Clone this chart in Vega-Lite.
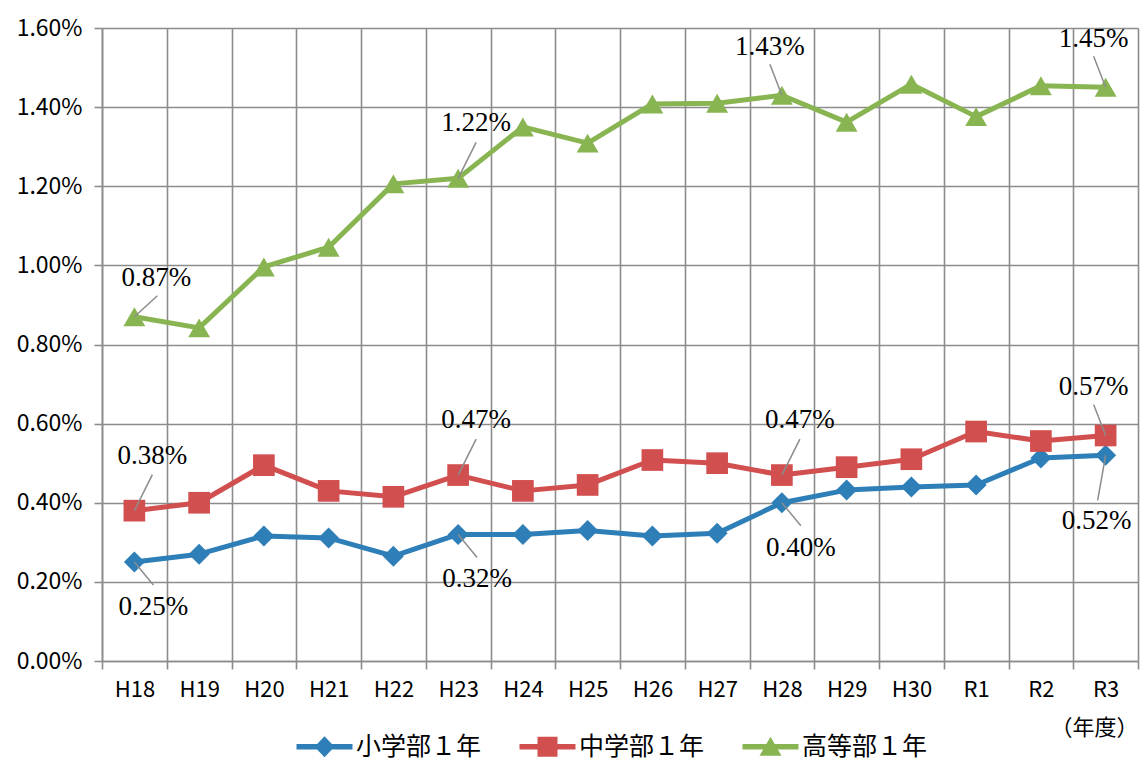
{
  "$schema": "https://vega.github.io/schema/vega-lite/v6.json",
  "width": 1036,
  "height": 633,
  "autosize": "none",
  "padding": {"left": 102, "top": 28, "right": 8, "bottom": 104},
  "background": "white",
  "config": {
    "view": {"stroke": null},
    "font": "Noto Sans CJK JP",
    "axis": {
      "gridColor": "#8c8c8c", "gridWidth": 1.6, "gridOpacity": 1,
      "domainColor": "#8c8c8c", "domainWidth": 1.6,
      "tickColor": "#8c8c8c", "tickWidth": 1.6, "tickSize": 8,
      "labelColor": "#000000", "labelFont": "Noto Sans CJK JP", "labelFontSize": 22,
      "titleFont": "Noto Sans CJK JP", "titleFontSize": 22, "titleFontWeight": "normal", "titleColor": "#000000"
    },
    "legend": {"layout": {"bottom": {"anchor": "middle"}}}
  },
  "datasets": {
    "rates": [
      {"year": "H18", "series": "小学部１年", "rate": 0.0025},
      {"year": "H19", "series": "小学部１年", "rate": 0.0027},
      {"year": "H20", "series": "小学部１年", "rate": 0.00316},
      {"year": "H21", "series": "小学部１年", "rate": 0.00311},
      {"year": "H22", "series": "小学部１年", "rate": 0.00265},
      {"year": "H23", "series": "小学部１年", "rate": 0.0032},
      {"year": "H24", "series": "小学部１年", "rate": 0.0032},
      {"year": "H25", "series": "小学部１年", "rate": 0.0033},
      {"year": "H26", "series": "小学部１年", "rate": 0.00316},
      {"year": "H27", "series": "小学部１年", "rate": 0.00323},
      {"year": "H28", "series": "小学部１年", "rate": 0.004},
      {"year": "H29", "series": "小学部１年", "rate": 0.00432},
      {"year": "H30", "series": "小学部１年", "rate": 0.0044},
      {"year": "R1", "series": "小学部１年", "rate": 0.00445},
      {"year": "R2", "series": "小学部１年", "rate": 0.00513},
      {"year": "R3", "series": "小学部１年", "rate": 0.0052},
      {"year": "H18", "series": "中学部１年", "rate": 0.0038},
      {"year": "H19", "series": "中学部１年", "rate": 0.004},
      {"year": "H20", "series": "中学部１年", "rate": 0.00495},
      {"year": "H21", "series": "中学部１年", "rate": 0.0043},
      {"year": "H22", "series": "中学部１年", "rate": 0.00415},
      {"year": "H23", "series": "中学部１年", "rate": 0.0047},
      {"year": "H24", "series": "中学部１年", "rate": 0.0043},
      {"year": "H25", "series": "中学部１年", "rate": 0.00445},
      {"year": "H26", "series": "中学部１年", "rate": 0.00508},
      {"year": "H27", "series": "中学部１年", "rate": 0.005},
      {"year": "H28", "series": "中学部１年", "rate": 0.0047},
      {"year": "H29", "series": "中学部１年", "rate": 0.0049},
      {"year": "H30", "series": "中学部１年", "rate": 0.0051},
      {"year": "R1", "series": "中学部１年", "rate": 0.0058},
      {"year": "R2", "series": "中学部１年", "rate": 0.00556},
      {"year": "R3", "series": "中学部１年", "rate": 0.0057},
      {"year": "H18", "series": "高等部１年", "rate": 0.0087},
      {"year": "H19", "series": "高等部１年", "rate": 0.00842},
      {"year": "H20", "series": "高等部１年", "rate": 0.00996},
      {"year": "H21", "series": "高等部１年", "rate": 0.01046},
      {"year": "H22", "series": "高等部１年", "rate": 0.01206},
      {"year": "H23", "series": "高等部１年", "rate": 0.0122},
      {"year": "H24", "series": "高等部１年", "rate": 0.0135},
      {"year": "H25", "series": "高等部１年", "rate": 0.01309},
      {"year": "H26", "series": "高等部１年", "rate": 0.01408},
      {"year": "H27", "series": "高等部１年", "rate": 0.0141},
      {"year": "H28", "series": "高等部１年", "rate": 0.0143},
      {"year": "H29", "series": "高等部１年", "rate": 0.01362},
      {"year": "H30", "series": "高等部１年", "rate": 0.01458},
      {"year": "R1", "series": "高等部１年", "rate": 0.01376},
      {"year": "R2", "series": "高等部１年", "rate": 0.01454},
      {"year": "R3", "series": "高等部１年", "rate": 0.0145}
    ]
  },
  "data": {"name": "rates"},
  "encoding": {
    "x": {
      "field": "year", "type": "nominal",
      "sort": ["H18","H19","H20","H21","H22","H23","H24","H25","H26","H27","H28","H29","H30","R1","R2","R3"],
      "scale": {"type": "band", "paddingInner": 0, "paddingOuter": 0},
      "axis": {"title": "（年度）", "titleAnchor": "end", "labelAngle": 0, "tickBand": "extent", "grid": true, "labelPadding": 10, "titlePadding": 17}
    },
    "y": {
      "field": "rate", "type": "quantitative",
      "scale": {"domain": [0, 0.016], "nice": false, "zero": true},
      "axis": {"title": null, "format": ".2%", "values": [0, 0.002, 0.004, 0.006, 0.008, 0.01, 0.012, 0.014, 0.016], "labelPadding": 12, "grid": true, "labelFontSize": 23}
    }
  },
  "layer": [
    {
      "transform": [{"filter": "datum.series === '小学部１年'"}],
      "mark": {"type": "line", "strokeWidth": 5, "strokeJoin": "round", "strokeCap": "round", "color": "#2E7EB8"}
    },
    {
      "transform": [{"filter": "datum.series === '中学部１年'"}],
      "mark": {"type": "line", "strokeWidth": 5, "strokeJoin": "round", "strokeCap": "round", "color": "#D24F4F"}
    },
    {
      "transform": [{"filter": "datum.series === '高等部１年'"}],
      "mark": {"type": "line", "strokeWidth": 5, "strokeJoin": "round", "strokeCap": "round", "color": "#88B552"}
    },
    {
      "transform": [{"filter": "datum.series === '小学部１年'"}],
      "mark": {"type": "point", "filled": true, "opacity": 1, "shape": "diamond", "size": 440, "color": "#2E7EB8"}
    },
    {
      "transform": [{"filter": "datum.series === '中学部１年'"}],
      "mark": {"type": "point", "filled": true, "opacity": 1, "shape": "square", "size": 470, "color": "#D24F4F"}
    },
    {
      "transform": [{"filter": "datum.series === '高等部１年'"}],
      "mark": {"type": "point", "filled": true, "opacity": 1, "shape": "triangle-up", "size": 480, "color": "#88B552"}
    },
    {
      "transform": [{"filter": "(datum.series === '中学部１年' && indexof(['H18','H23','H28'], datum.year) >= 0) || (datum.series === '高等部１年' && datum.year === 'H23')"}],
      "mark": {"type": "rule", "color": "#8c8c8c", "strokeWidth": 1.5, "x2Offset": 18, "y2Offset": -36},
      "encoding": {
        "x": {"field": "year", "type": "nominal", "bandPosition": 0.5, "sort": ["H18","H19","H20","H21","H22","H23","H24","H25","H26","H27","H28","H29","H30","R1","R2","R3"]},
        "x2": {"field": "year", "bandPosition": 0.5},
        "y2": {"field": "rate"}
      }
    },
    {
      "transform": [{"filter": "datum.series === '高等部１年' && datum.year === 'H18'"}],
      "mark": {"type": "rule", "color": "#8c8c8c", "strokeWidth": 1.5, "x2Offset": 23, "y2Offset": -21},
      "encoding": {
        "x": {"field": "year", "type": "nominal", "bandPosition": 0.5, "sort": ["H18","H19","H20","H21","H22","H23","H24","H25","H26","H27","H28","H29","H30","R1","R2","R3"]},
        "x2": {"field": "year", "bandPosition": 0.5},
        "y2": {"field": "rate"}
      }
    },
    {
      "transform": [{"filter": "(datum.year === 'R3' && datum.series !== '小学部１年') || (datum.series === '高等部１年' && datum.year === 'H28')"}],
      "mark": {"type": "rule", "color": "#8c8c8c", "strokeWidth": 1.5, "x2Offset": -12, "y2Offset": -31},
      "encoding": {
        "x": {"field": "year", "type": "nominal", "bandPosition": 0.5, "sort": ["H18","H19","H20","H21","H22","H23","H24","H25","H26","H27","H28","H29","H30","R1","R2","R3"]},
        "x2": {"field": "year", "bandPosition": 0.5},
        "y2": {"field": "rate"}
      }
    },
    {
      "transform": [{"filter": "datum.series === '小学部１年' && indexof(['H18','H23','H28'], datum.year) >= 0"}],
      "mark": {"type": "rule", "color": "#8c8c8c", "strokeWidth": 1.5, "x2Offset": 19, "y2Offset": 23},
      "encoding": {
        "x": {"field": "year", "type": "nominal", "bandPosition": 0.5, "sort": ["H18","H19","H20","H21","H22","H23","H24","H25","H26","H27","H28","H29","H30","R1","R2","R3"]},
        "x2": {"field": "year", "bandPosition": 0.5},
        "y2": {"field": "rate"}
      }
    },
    {
      "transform": [{"filter": "datum.series === '小学部１年' && datum.year === 'R3'"}],
      "mark": {"type": "rule", "color": "#8c8c8c", "strokeWidth": 1.5, "x2Offset": -8, "y2Offset": 45},
      "encoding": {
        "x": {"field": "year", "type": "nominal", "bandPosition": 0.5, "sort": ["H18","H19","H20","H21","H22","H23","H24","H25","H26","H27","H28","H29","H30","R1","R2","R3"]},
        "x2": {"field": "year", "bandPosition": 0.5},
        "y2": {"field": "rate"}
      }
    },
    {
      "transform": [{"filter": "(datum.series === '中学部１年' && indexof(['H18','H23','H28'], datum.year) >= 0) || (datum.series === '高等部１年' && datum.year === 'H23')"}],
      "mark": {"type": "text", "font": "Liberation Serif", "fontSize": 27, "color": "#000000", "align": "center", "baseline": "middle", "dx": 18, "dy": -55},
      "encoding": {"text": {"field": "rate", "type": "quantitative", "format": ".2%"}}
    },
    {
      "transform": [{"filter": "datum.series === '高等部１年' && datum.year === 'H18'"}],
      "mark": {"type": "text", "font": "Liberation Serif", "fontSize": 27, "color": "#000000", "align": "center", "baseline": "middle", "dx": 22, "dy": -39},
      "encoding": {"text": {"field": "rate", "type": "quantitative", "format": ".2%"}}
    },
    {
      "transform": [{"filter": "(datum.year === 'R3' && datum.series !== '小学部１年') || (datum.series === '高等部１年' && datum.year === 'H28')"}],
      "mark": {"type": "text", "font": "Liberation Serif", "fontSize": 27, "color": "#000000", "align": "center", "baseline": "middle", "dx": -12, "dy": -48},
      "encoding": {"text": {"field": "rate", "type": "quantitative", "format": ".2%"}}
    },
    {
      "transform": [{"filter": "datum.series === '小学部１年' && indexof(['H18','H23','H28'], datum.year) >= 0"}],
      "mark": {"type": "text", "font": "Liberation Serif", "fontSize": 27, "color": "#000000", "align": "center", "baseline": "middle", "dx": 19, "dy": 45},
      "encoding": {"text": {"field": "rate", "type": "quantitative", "format": ".2%"}}
    },
    {
      "transform": [{"filter": "datum.series === '小学部１年' && datum.year === 'R3'"}],
      "mark": {"type": "text", "font": "Liberation Serif", "fontSize": 27, "color": "#000000", "align": "center", "baseline": "middle", "dx": -9, "dy": 66},
      "encoding": {"text": {"field": "rate", "type": "quantitative", "format": ".2%"}}
    },
    {
      "transform": [{"filter": "false"}],
      "mark": {"type": "point", "filled": true, "opacity": 1},
      "encoding": {
        "color": {
          "field": "series", "type": "nominal",
          "scale": {"domain": ["小学部１年", "中学部１年", "高等部１年"], "range": ["#2E7EB8", "#D24F4F", "#88B552"]},
          "legend": {"title": null, "orient": "bottom", "direction": "horizontal", "symbolSize": 100, "symbolStrokeWidth": 0, "symbolOpacity": 1, "labelFont": "Noto Sans CJK JP", "labelFontSize": 25, "labelColor": "#000000", "labelOffset": 19, "columnPadding": 37, "offset": -4}
        },
        "shape": {
          "field": "series", "type": "nominal",
          "scale": {"domain": ["小学部１年", "中学部１年", "高等部１年"], "range": [
            "M-5.6,-0.55L5.6,-0.55L5.6,0.55L-5.6,0.55Z M0,-2.1L2,0L0,2.1L-2,0Z",
            "M-5.6,-0.55L5.6,-0.55L5.6,0.55L-5.6,0.55Z M-2,-2L2,-2L2,2L-2,2Z",
            "M-5.6,-0.55L5.6,-0.55L5.6,0.55L-5.6,0.55Z M0,-2L2.2,1.8L-2.2,1.8Z"
          ]},
          "legend": {"title": null, "orient": "bottom", "direction": "horizontal", "symbolSize": 100, "symbolStrokeWidth": 0, "symbolOpacity": 1, "labelFont": "Noto Sans CJK JP", "labelFontSize": 25, "labelColor": "#000000", "labelOffset": 19, "columnPadding": 37, "offset": -4}
        }
      }
    }
  ]
}
